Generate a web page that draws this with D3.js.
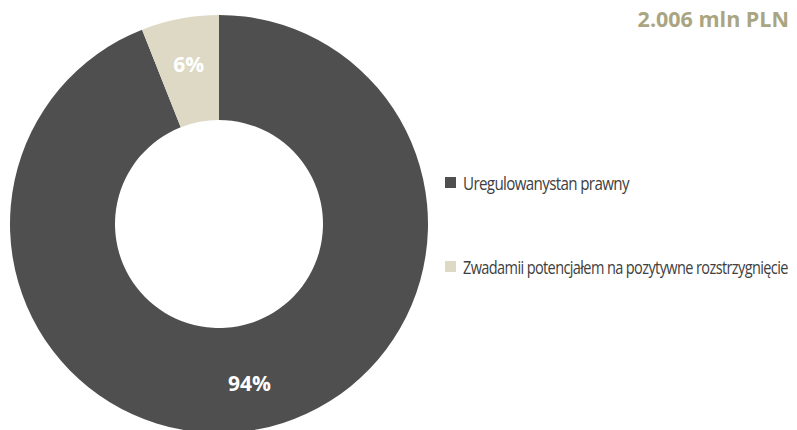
<!DOCTYPE html>
<html>
<head>
<meta charset="utf-8">
<script src="https://cdn.jsdelivr.net/npm/d3@7"></script>
<style>
  html, body { margin: 0; padding: 0; background: #fff; }
  svg { display: block; }
</style>
</head>
<body>
<svg id="chart" width="797" height="430"></svg>
<script>
// Structure of legal status, share of total value
const categories = ["Uregulowanystan prawny", "Zwadamii potencjałem na pozytywne rozstrzygnięcie"];
const values = [94, 6];
const valueLabels = ["94%", "6%"];
const colors = ["#4f4f4f", "#ddd9c4"];
const totalLabel = "2.006 mln PLN";

const svg = d3.select("#chart");
const cx = 219, cy = 224, outerR = 209, innerR = 104;

const pie = d3.pie().sort(null).value(d => d.value);
const data = pie(categories.map((c, i) => ({ name: c, value: values[i], label: valueLabels[i], color: colors[i] })));

const arc = d3.arc().innerRadius(innerR).outerRadius(outerR);
const labelArc = d3.arc().innerRadius(innerR + 58).outerRadius(innerR + 58);

const g = svg.append("g").attr("transform", `translate(${cx},${cy})`);
g.selectAll("path.slice")
  .data(data)
  .join("path")
  .attr("class", "slice")
  .attr("d", arc)
  .attr("fill", d => d.data.color);

g.selectAll("text.val")
  .data(data)
  .join("text")
  .attr("class", "val")
  .attr("transform", d => `translate(${labelArc.centroid(d)})`)
  .attr("text-anchor", "middle")
  .attr("dy", "0.36em")
  .attr("font-family", "'Open Sans', sans-serif")
  .attr("font-weight", "bold")
  .attr("font-size", 21)
  .attr("fill", "#fff")
  .text(d => d.data.label);

// Total value heading
svg.append("text")
  .attr("x", 789)
  .attr("y", 27)
  .attr("text-anchor", "end")
  .attr("font-family", "'Open Sans', sans-serif")
  .attr("font-weight", "bold")
  .attr("font-size", 21.5)
  .attr("fill", "#aaa581")
  .text(totalLabel);

// Legend: condensed labels, squeezed horizontally to their box width
const legendY = [183, 267];
const legendW = [166, 325];
const lg = svg.selectAll("g.legend")
  .data(data)
  .join("g")
  .attr("class", "legend")
  .attr("transform", (d, i) => `translate(445,${legendY[i]})`);

lg.append("rect")
  .attr("x", 0).attr("y", -6)
  .attr("width", 11).attr("height", 11)
  .attr("fill", d => d.data.color);

lg.append("text")
  .attr("font-family", "'Open Sans', sans-serif")
  .attr("font-size", 19)
  .attr("letter-spacing", -0.8)
  .attr("fill", "#404040")
  .text(d => d.data.name)
  .each(function(d, i) {
    const w = this.getComputedTextLength();
    const k = legendW[i] / w;
    d3.select(this).attr("transform", `translate(18,7) scale(${k},1)`);
  });
</script>
</body>
</html>
